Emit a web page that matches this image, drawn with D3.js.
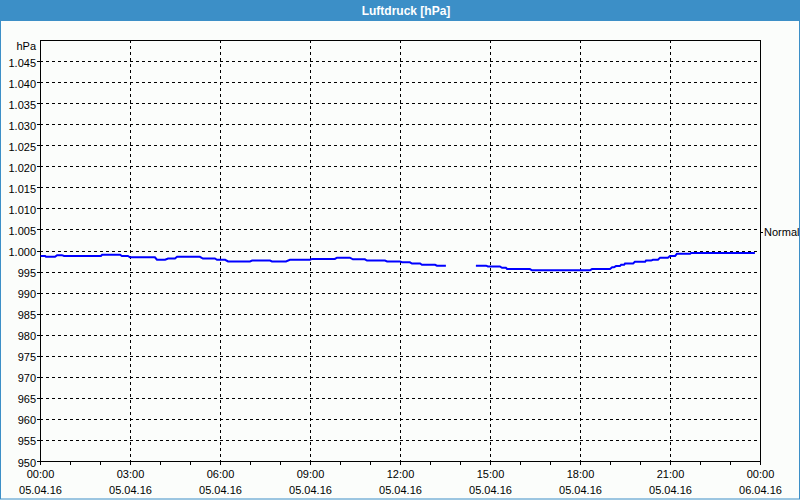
<!DOCTYPE html>
<html>
<head>
<meta charset="utf-8">
<script src="https://cdn.jsdelivr.net/npm/d3@7"></script>
<style>
  html, body { margin: 0; padding: 0; background: #fbfdfb; }
  svg { display: block; }
  text { font-family: "Liberation Sans", Arial, sans-serif; font-size: 11px; fill: #000; }
</style>
</head>
<body>
<svg id="chart" width="800" height="500"></svg>
<script>
// ---- data ----
const title = "Luftdruck [hPa]";
const unitLabel = "hPa";
const refLabel = "Normal";
const refValue = 1004.3;
const yTicks = [950, 955, 960, 965, 970, 975, 980, 985, 990, 995, 1000, 1005, 1010, 1015, 1020, 1025, 1030, 1035, 1040, 1045];
const yTickLabels = ["950", "955", "960", "965", "970", "975", "980", "985", "990", "995", "1.000", "1.005", "1.010", "1.015", "1.020", "1.025", "1.030", "1.035", "1.040", "1.045"];
const xTickHours = [0, 3, 6, 9, 12, 15, 18, 21, 24];
const xTickTimes = ["00:00", "03:00", "06:00", "09:00", "12:00", "15:00", "18:00", "21:00", "00:00"];
const xTickDates = ["05.04.16", "05.04.16", "05.04.16", "05.04.16", "05.04.16", "05.04.16", "05.04.16", "05.04.16", "06.04.16"];
// measurement times (hours since 05.04.16 00:00) and pressure (hPa); null = missing data
const hours = [
  0.02, 0.17, 0.2, 0.5, 0.57, 0.73, 0.8, 2.03, 2.07, 2.67, 2.73, 2.93, 3.0, 3.83,
  3.9, 4.17, 4.27, 4.5, 4.57, 5.33, 5.43, 5.83, 5.9, 6.17, 6.27, 7.0, 7.07, 7.67,
  7.73, 8.2, 8.33, 9.0, 9.07, 9.83, 9.9, 10.33, 10.43, 10.83, 10.9, 11.5, 11.57, 12.0,
  12.07, 12.33, 12.4, 12.67, 12.73, 13.17, 13.23, 13.53,
  14.0,
  14.53, 14.87, 14.93, 15.33, 15.4, 15.53, 15.57, 16.33, 16.4, 18.33, 18.4, 19.0,
  19.07, 19.13, 19.2, 19.33, 19.37, 19.47, 19.5, 19.77, 19.83, 20.17, 20.2, 20.37,
  20.43, 20.6, 20.67, 20.93, 21.0, 21.17, 21.23, 21.67, 21.7, 23.83
];
const pressure = [
  998.7, 998.7, 998.5, 998.5, 998.9, 998.9, 998.7, 998.7, 999.0, 999.0, 998.7, 998.7, 998.4, 998.4,
  997.8, 997.8, 998.1, 998.1, 998.5, 998.5, 998.1, 998.1, 997.8, 997.8, 997.4, 997.4, 997.6, 997.6,
  997.4, 997.4, 997.8, 997.8, 998.0, 998.0, 998.3, 998.3, 997.9, 997.9, 997.6, 997.6, 997.4, 997.4,
  997.2, 997.2, 996.9, 996.9, 996.6, 996.6, 996.4, 996.4,
  null,
  996.4, 996.4, 996.2, 996.2, 995.9, 995.9, 995.6, 995.6, 995.3, 995.3, 995.6, 995.6,
  996.0, 996.0, 996.3, 996.3, 996.6, 996.6, 996.9, 996.9, 997.3, 997.3, 997.6, 997.6,
  997.8, 997.8, 998.3, 998.3, 998.7, 998.7, 999.2, 999.2, 999.4, 999.4
];

// ---- layout ----
const svg = d3.select("#chart");
const W = 800, H = 500;
const mLeft = 40, mRight = 760, mTop = 40, mBottom = 461;

// frame
svg.append("rect").attr("x", 0).attr("y", 0).attr("width", W).attr("height", H).attr("fill", "#fbfdfb");
svg.append("rect").attr("x", 0).attr("y", 0).attr("width", W).attr("height", 21).attr("fill", "#3c8fc7");
svg.append("rect").attr("x", 0.5).attr("y", 0.5).attr("width", W - 1).attr("height", H - 1.5)
  .attr("fill", "none").attr("stroke", "#3c8fc7").attr("stroke-width", 1);
svg.append("text").attr("x", 406).attr("y", 15).attr("text-anchor", "middle")
  .style("font-weight", "bold").style("font-size", "12px").style("fill", "#fff").text(title);

const x = d3.scaleLinear().domain([0, 24]).range([mLeft, mRight]);
const y = d3.scaleLinear().domain([950, 1050]).range([mBottom, mTop]);

// horizontal gridlines
svg.append("g").selectAll("line").data(yTicks.filter(v => v > 950)).join("line")
  .attr("x1", mLeft).attr("x2", mRight)
  .attr("y1", d => Math.round(y(d)) + 0.5).attr("y2", d => Math.round(y(d)) + 0.5)
  .attr("stroke", "#000").attr("stroke-dasharray", "3,3").attr("shape-rendering", "crispEdges");
// vertical gridlines
svg.append("g").selectAll("line").data(xTickHours.filter(h => h > 0 && h < 24)).join("line")
  .attr("x1", d => Math.round(x(d)) + 0.5).attr("x2", d => Math.round(x(d)) + 0.5)
  .attr("y1", mTop).attr("y2", mBottom)
  .attr("stroke", "#000").attr("stroke-dasharray", "3,3").attr("shape-rendering", "crispEdges");

// plot box
svg.append("rect").attr("x", mLeft + 0.5).attr("y", mTop + 0.5)
  .attr("width", mRight - mLeft).attr("height", mBottom - mTop)
  .attr("fill", "none").attr("stroke", "#000").attr("shape-rendering", "crispEdges");

// hourly minor ticks below x axis
svg.append("g").selectAll("line").data(d3.range(0, 25)).join("line")
  .attr("x1", d => Math.round(x(d)) + 0.5).attr("x2", d => Math.round(x(d)) + 0.5)
  .attr("y1", mBottom).attr("y2", mBottom + 4)
  .attr("stroke", "#000").attr("shape-rendering", "crispEdges");

// y ticks (small outer ticks)
svg.append("g").selectAll("line").data(yTicks).join("line")
  .attr("x1", mLeft - 3).attr("x2", mLeft)
  .attr("y1", d => Math.round(y(d)) + 0.5).attr("y2", d => Math.round(y(d)) + 0.5)
  .attr("stroke", "#000").attr("shape-rendering", "crispEdges");

// y labels
svg.append("g").selectAll("text").data(yTicks).join("text")
  .attr("x", 36).attr("y", d => y(d) + 5.5).attr("text-anchor", "end")
  .text((d, i) => yTickLabels[i]);
svg.append("text").attr("x", 36).attr("y", 50).attr("text-anchor", "end").text(unitLabel);

// x labels
const xl = svg.append("g");
xl.selectAll("text.t").data(xTickHours).join("text").attr("class", "t")
  .attr("x", d => x(d) + 0.5).attr("y", 478).attr("text-anchor", "middle")
  .text((d, i) => xTickTimes[i]);
xl.selectAll("text.d").data(xTickHours).join("text").attr("class", "d")
  .attr("x", d => x(d) + 0.5).attr("y", 494).attr("text-anchor", "middle")
  .text((d, i) => xTickDates[i]);

// reference "Normal" marker on right axis
svg.append("line").attr("x1", mRight).attr("x2", mRight + 3)
  .attr("y1", Math.round(y(refValue)) + 0.5).attr("y2", Math.round(y(refValue)) + 0.5)
  .attr("stroke", "#000").attr("shape-rendering", "crispEdges");
svg.append("text").attr("x", mRight + 4).attr("y", y(refValue) + 4).text(refLabel);

// data line
const pts = hours.map((h, i) => ({ h, v: pressure[i] }));
const line = d3.line().defined(d => d.v !== null).x(d => x(d.h)).y(d => y(d.v));
svg.append("path").datum(pts).attr("d", line)
  .attr("fill", "none").attr("stroke", "#0000ff").attr("stroke-width", 2)
  .attr("stroke-linejoin", "miter");
</script>
</body>
</html>
